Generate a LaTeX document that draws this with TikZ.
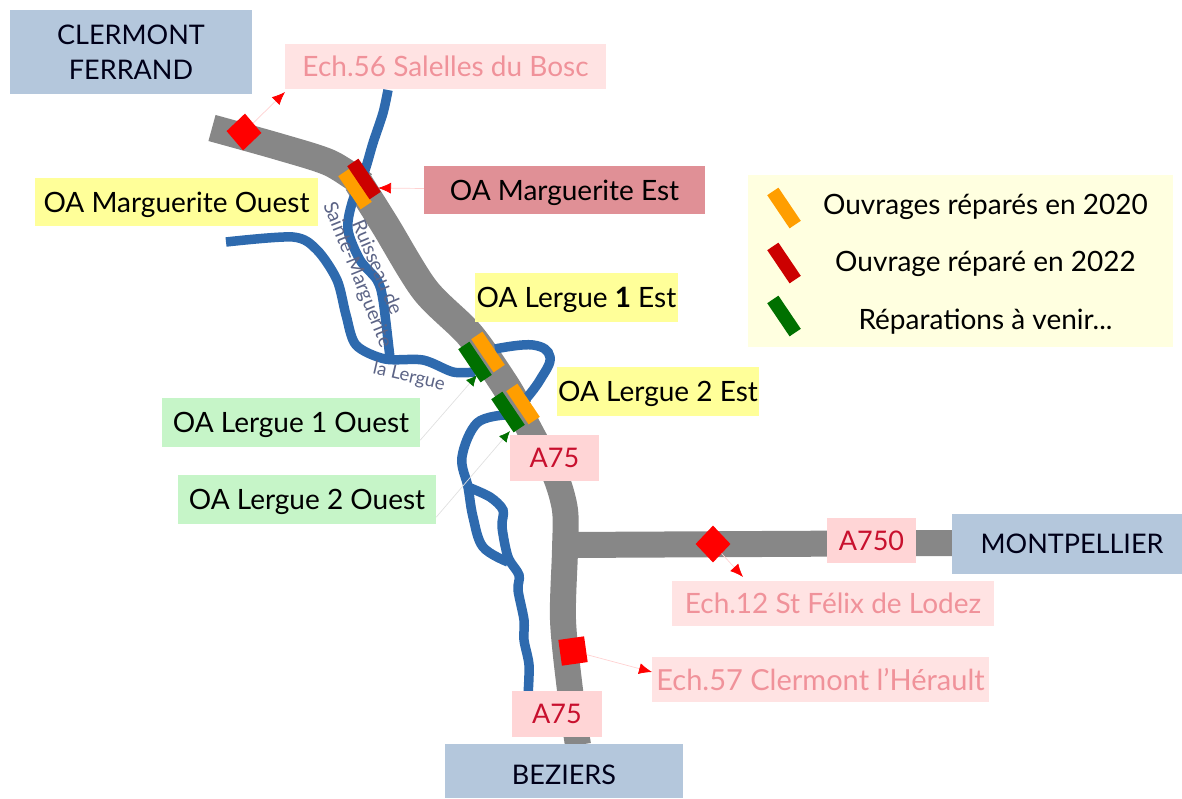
\documentclass[tikz,border=0pt]{standalone}
\usepackage{fontspec}
\setmainfont{Lato}
\usetikzlibrary{arrows.meta, shapes.geometric}
\definecolor{roadgray}{HTML}{878787}
\definecolor{riverblue}{HTML}{2E6AAE}
\definecolor{citybg}{HTML}{B4C7DC}
\definecolor{roadbg}{HTML}{FFD5D6}
\definecolor{roadtext}{HTML}{C8102E}
\definecolor{exitbg}{HTML}{FFE3E3}
\definecolor{exittext}{HTML}{F0929A}
\definecolor{todobg}{HTML}{C6F5C8}
\definecolor{estbg}{HTML}{E09096}
\definecolor{yellowbg}{HTML}{FFFF99}
\definecolor{legendbg}{HTML}{FFFFE0}
\definecolor{barorange}{HTML}{FF9E00}
\definecolor{barred}{HTML}{CC0000}
\definecolor{bargreen}{HTML}{007000}
\definecolor{rivertext}{HTML}{5C6486}
\tikzstyle{tagbox} = [rectangle, inner sep=0pt, align=center, text depth=0pt, font=\fontsize{28}{35}\selectfont]
\tikzstyle{city} = [tagbox, fill=citybg, text=black!90!blue, font=\fontsize{27}{35}\selectfont]
\tikzstyle{roadtag} = [tagbox, fill=roadbg, text=roadtext, font=\fontsize{27}{35}\selectfont]
\tikzstyle{exittag} = [tagbox, fill=exitbg, text=exittext]
\tikzstyle{yellowtag} = [tagbox, fill=yellowbg]
\tikzstyle{greentag} = [tagbox, fill=todobg]
\tikzstyle{legendtext} = [inner sep=0pt, text depth=0pt, font=\fontsize{28}{32}\selectfont]
\tikzstyle{bar} = [rectangle, inner sep=0pt, minimum width=40pt, minimum height=13.5pt, rotate=-56]
\tikzstyle{road} = [draw=roadgray, line width=26pt]
\tikzstyle{river} = [draw=riverblue, line width=9.5pt, line cap=butt]
\tikzstyle{rivername} = [inner sep=0pt, text=rivertext, font=\fontsize{19.5}{22}\selectfont]
\tikzstyle{exitmark} = [diamond, fill=red, inner sep=0pt, minimum width=35pt, minimum height=37pt]
\tikzstyle{line} = [draw=red!18, line width=0.7pt, -{Latex[red, length=13pt, width=11pt]}]
\tikzstyle{greenline} = [draw=black!12, line width=0.7pt, -{Latex[bargreen, length=11pt, width=10pt]}]
\begin{document}
\begin{tikzpicture}[x=1pt, y=-1pt]
        \useasboundingbox (0,0) rectangle (1182,798);
        % Draw roads
        \draw [road, line width=27pt] plot [smooth, tension=0.5] coordinates {(212,128) (280,147) (330,163) (364,185)};
        \draw [road, line width=29pt] plot [smooth, tension=0.5] coordinates {(358,182) (385,225) (425,290) (470,335) (505,385) (518,408)};
        \draw [road] plot [smooth, tension=0.5] coordinates {(515,402) (535,440) (555,475) (565,510) (565,550) (563,620) (570,690) (578,745)};
        \draw [road] (565,545) -- (955,543);
        % Draw rivers
        \draw [river] plot [smooth, tension=0.5] coordinates {(388,90) (383,113) (373,143) (365,170) (352,203) (348,230) (360,260) (377,280) (383,300) (390,358)};
        \draw [river] plot [smooth, tension=0.5] coordinates {(226,242) (293,237) (317,250) (337,280) (346,315) (356,345) (385,359) (423,360) (453,372) (475,372)};
        \draw [river] plot [smooth, tension=0.7] coordinates {(495,349) (533,345) (550,357) (540,380) (525,400)};
        \draw [river] plot [smooth, tension=0.6] coordinates {(505,415) (477,423) (462,457) (468,487) (473,517) (483,547) (508,562)};
        \draw [river] plot [smooth, tension=0.5] coordinates {(468,487) (490,497) (503,510) (502,527) (508,557) (519,575) (518,590) (524,620) (524,640) (529,665) (528,695)};
        % Place bars
        \node [bar, fill=barorange] (margOuestBar) at (355,189) {};
        \node [bar, fill=barred] (margEstBar) at (364,179) {};
        \node [bar, fill=barorange] (lergueOneEstBar) at (488,352) {};
        \node [bar, fill=bargreen] (lergueOneOuestBar) at (475,362) {};
        \node [bar, fill=barorange] (lergueTwoEstBar) at (523,404) {};
        \node [bar, fill=bargreen] (lergueTwoOuestBar) at (508,412) {};
        % Place exits
        \node [exitmark, rotate=-3] (exitSalelles) at (244,132) {};
        \node [exitmark] (exitLodez) at (713,544) {};
        \node [rectangle, fill=red, inner sep=0pt, minimum size=26pt, rotate=8] (exitHerault) at (573,651) {};
        % Place labels
        \node [city, minimum width=242pt, minimum height=84pt] (clermont) at (131,52) {CLERMONT\\FERRAND};
        \node [city, minimum width=230pt, minimum height=60pt] (montpellier) at (1067,544) {\hspace*{10pt}MONTPELLIER};
        \node [city, minimum width=238pt, minimum height=54pt, text height=27pt] (beziers) at (564,771) {BEZIERS};
        \node [roadtag, minimum width=89pt, minimum height=46pt] (roadNorth) at (554.5,458) {A75};
        \node [roadtag, minimum width=90pt, minimum height=46pt] (roadSouth) at (557,714) {A75};
        \node [roadtag, minimum width=89pt, minimum height=45pt] (roadEast) at (871.5,540.5) {A750};
        \node [exittag, minimum width=321pt, minimum height=45pt] (tagSalelles) at (445.5,66.5) {Ech.56 Salelles du Bosc};
        \node [exittag, minimum width=322pt, minimum height=45pt] (tagLodez) at (833,603.5) {Ech.12 St Félix de Lodez};
        \node [exittag, minimum width=337pt, minimum height=45pt, font=\fontsize{29}{35}\selectfont] (tagHerault) at (820.5,679.5) {Ech.57 Clermont l'Hérault};
        \node [tagbox, fill=estbg, minimum width=281pt, minimum height=48pt] (margEst) at (564.5,190) {OA Marguerite Est};
        \node [yellowtag, minimum width=283pt, minimum height=48pt] (margOuest) at (176.5,202) {OA Marguerite Ouest};
        \node [yellowtag, minimum width=203pt, minimum height=49pt] (lergueOneEst) at (576.5,297.5) {OA Lergue \textbf{1} Est};
        \node [yellowtag, minimum width=202pt, minimum height=49pt] (lergueTwoEst) at (658,391.5) {OA Lergue 2 Est};
        \node [greentag, minimum width=258pt, minimum height=49pt] (lergueOneOuest) at (291,422.5) {OA Lergue 1 Ouest};
        \node [greentag, minimum width=258pt, minimum height=49pt] (lergueTwoOuest) at (307,499.5) {OA Lergue 2 Ouest};
        % River names
        \node [rivername, rotate=-67] (ruisseau) at (378,267) {Ruisseau de};
        \node [rivername, rotate=-68] (marguerite) at (357,275) {Sainte-Marguerite};
        \node [rivername, rotate=-13, font=\fontsize{18.5}{22}\selectfont] (lergue) at (409,377) {la Lergue};
        % Legend
        \node [rectangle, fill=legendbg, inner sep=0pt, minimum width=425pt, minimum height=172pt] (legend) at (960.5,261) {};
        \node [bar, fill=barorange] (legendOrange) at (784,208) {};
        \node [bar, fill=barred] (legendRed) at (784,263) {};
        \node [bar, fill=bargreen] (legendGreen) at (784,316) {};
        \node [legendtext] (legendDone) at (985.5,204) {Ouvrages réparés en 2020};
        \node [legendtext] (legendDoneTwo) at (985.5,261) {Ouvrage réparé en 2022};
        \node [legendtext] (legendTodo) at (985.5,319) {Réparations à venir...};
        % Draw edges
        \coordinate (tipSalelles) at (285,92);
        \coordinate (tipEst) at (378,188);
        \coordinate (tipLodez) at (743,577);
        \coordinate (tipHerault) at (652,672);
        \coordinate (tipOneOuest) at (477,375);
        \coordinate (tipTwoOuest) at (510,431);
        \path [line] (exitSalelles) -- (tipSalelles);
        \path [line] (margEst) -- (tipEst);
        \path [line] (exitLodez) -- (tipLodez);
        \path [line] (exitHerault) -- (tipHerault);
        \path [greenline] ([yshift=7pt]lergueOneOuest.south east) -- (tipOneOuest);
        \path [greenline] ([yshift=7pt]lergueTwoOuest.south east) -- (tipTwoOuest);
\end{tikzpicture}
\end{document}
